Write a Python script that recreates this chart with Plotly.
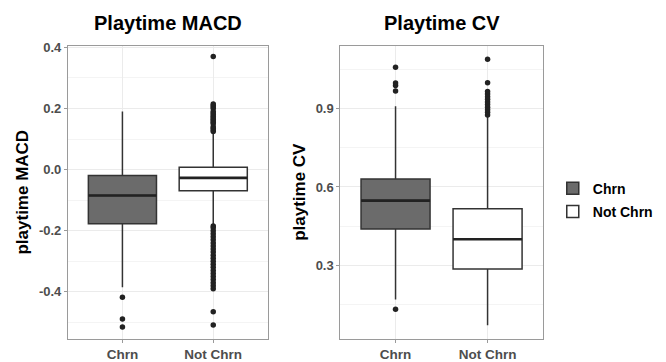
import plotly.graph_objects as go

groups = ["Chrn", "Not Chrn"]

# Playtime MACD box stats (Chrn, Not Chrn)
macd_q1 = [-0.177, -0.069]
macd_med = [-0.085, -0.027]
macd_q3 = [-0.019, 0.008]
macd_lo = [-0.385, -0.182]
macd_hi = [0.19, 0.12]
macd_out_chrn = [-0.418, -0.489, -0.515]
macd_out_not = [0.125, 0.13, 0.135, 0.14, 0.15, 0.155, 0.16, 0.165, 0.17, 0.175,
                 0.18, 0.185, 0.19, 0.2, 0.205, 0.21, 0.215, 0.37,
                 -0.185, -0.19, -0.2, -0.21, -0.22, -0.23, -0.24, -0.25, -0.26,
                 -0.27, -0.28, -0.29, -0.3, -0.31, -0.32, -0.33, -0.34, -0.35,
                 -0.36, -0.37, -0.38, -0.39, -0.465, -0.509]

# Playtime CV box stats (Chrn, Not Chrn)
cv_q1 = [0.439, 0.287]
cv_med = [0.548, 0.40]
cv_q3 = [0.63, 0.517]
cv_lo = [0.17, 0.072]
cv_hi = [0.908, 0.87]
cv_out_chrn = [0.133, 0.967, 0.988, 0.997, 1.057]
cv_out_not = [0.875, 0.885, 0.895, 0.905, 0.915, 0.925, 0.935, 0.945, 0.955,
              0.965, 0.998, 1.088]

macd_ticks = [-0.4, -0.2, 0.0, 0.2, 0.4]
macd_ticktext = ["-0.4", "-0.2", "0.0", "0.2", "0.4"]
macd_minor = [-0.5, -0.3, -0.1, 0.1, 0.3]
cv_ticks = [0.3, 0.6, 0.9]
cv_ticktext = ["0.3", "0.6", "0.9"]
cv_minor = [0.15, 0.45, 0.75, 1.05]

fills = ["#6b6b6b", "#ffffff"]
line_col = "#333333"
FONT = "Liberation Sans, Arial, sans-serif"
BOX_W = 0.75

fig = go.Figure()

panels = [
    ("x", "y", macd_q1, macd_med, macd_q3, macd_lo, macd_hi, [macd_out_chrn, macd_out_not], True),
    ("x2", "y2", cv_q1, cv_med, cv_q3, cv_lo, cv_hi, [cv_out_chrn, cv_out_not], False),
]

shapes = []
for xa, ya, q1, med, q3, lo, hi, outs, show in panels:
    for i, g in enumerate(groups):
        fig.add_trace(go.Box(
            x=[g], q1=[q1[i]], median=[med[i]], q3=[q3[i]],
            lowerfence=[lo[i]], upperfence=[hi[i]],
            name=g, legendgroup=g, showlegend=show,
            fillcolor=fills[i], line=dict(color=line_col, width=1.5),
            width=BOX_W, whiskerwidth=0, boxpoints=False,
            xaxis=xa, yaxis=ya, hoverinfo="skip",
        ))
        fig.add_trace(go.Scatter(
            x=[g] * len(outs[i]), y=outs[i], mode="markers",
            marker=dict(color="#222222", size=5.5),
            showlegend=False, xaxis=xa, yaxis=ya, hoverinfo="skip",
        ))
        # thicker median line (ggplot fatten)
        shapes.append(dict(type="line", xref=xa, yref=ya,
                           x0=i - BOX_W / 2, x1=i + BOX_W / 2, y0=med[i], y1=med[i],
                           line=dict(color="#222222", width=2.6)))

axis_common = dict(
    showline=True, mirror=True, linecolor="#9a9a9a", linewidth=1,
    ticks="outside", ticklen=3, tickcolor="#9a9a9a",
    gridcolor="#ebebeb", gridwidth=1, zeroline=False,
)
xtick_font = dict(family=FONT, size=13.5, color="#4d4d4d", weight="bold")
ytick_font = dict(family=FONT, size=13, color="#4d4d4d", weight="bold")
ytitle_font = dict(family=FONT, size=17, color="black", weight="bold")
title_font = dict(family=FONT, size=20, color="black", weight="bold")

fig.update_layout(
    width=666, height=362,
    margin=dict(l=0, r=0, t=0, b=0),
    paper_bgcolor="white", plot_bgcolor="white",
    font=dict(family=FONT),
    shapes=shapes,
    xaxis=dict(domain=[0.102, 0.402], type="category", categoryorder="array",
               categoryarray=groups, range=[-0.6, 1.6], anchor="y",
               tickfont=xtick_font, **axis_common),
    yaxis=dict(domain=[0.058, 0.887], range=[-0.553, 0.405], anchor="x",
               tickvals=macd_ticks, ticktext=macd_ticktext, tickfont=ytick_font,
               minor=dict(tickvals=macd_minor, showgrid=True, gridcolor="#f4f4f4", ticks=""),
               title=dict(text="playtime MACD", standoff=5, font=ytitle_font),
               **axis_common),
    xaxis2=dict(domain=[0.511, 0.815], type="category", categoryorder="array",
                categoryarray=groups, range=[-0.6, 1.6], anchor="y2",
                tickfont=xtick_font, **axis_common),
    yaxis2=dict(domain=[0.058, 0.887], range=[0.021, 1.139], anchor="x2",
                tickvals=cv_ticks, ticktext=cv_ticktext, tickfont=ytick_font,
                minor=dict(tickvals=cv_minor, showgrid=True, gridcolor="#f4f4f4", ticks=""),
                title=dict(text="playtime CV", standoff=5, font=ytitle_font),
                **axis_common),
    legend=dict(x=0.83, y=0.45, xanchor="left", yanchor="middle",
                font=dict(family=FONT, size=14, color="black", weight="bold"),
                bgcolor="rgba(0,0,0,0)", tracegroupgap=2),
    annotations=[
        dict(text="Playtime MACD", x=0.252, y=0.953, xref="paper", yref="paper",
             xanchor="center", yanchor="middle", showarrow=False, font=title_font),
        dict(text="Playtime CV", x=0.663, y=0.953, xref="paper", yref="paper",
             xanchor="center", yanchor="middle", showarrow=False, font=title_font),
    ],
)

fig.write_html("out.html")
